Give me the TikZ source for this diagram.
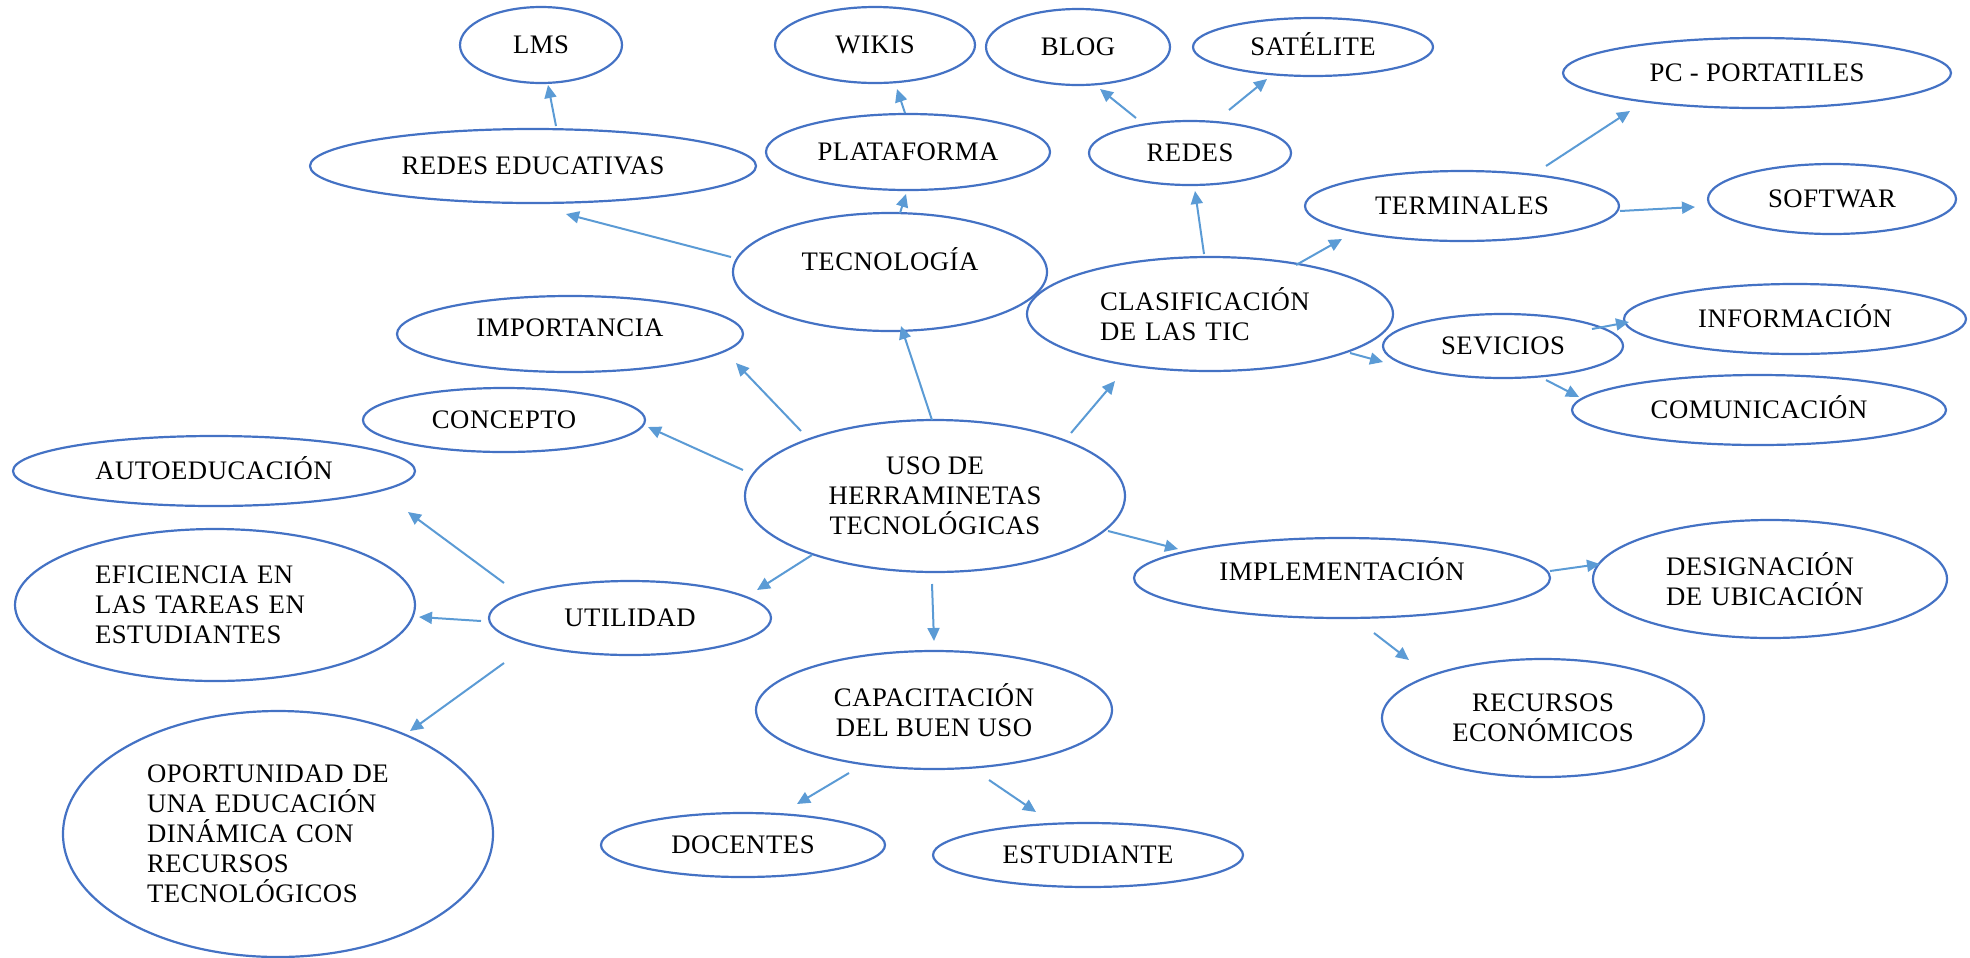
\documentclass[tikz,border=0pt]{standalone}
\usepackage{fontspec}
\newfontfamily\tnr[LetterSpace=2]{Liberation Serif}
\usetikzlibrary{shapes.geometric,arrows.meta,calc}

\definecolor{ovalblue}{HTML}{4472C4}
\definecolor{arrowblue}{HTML}{5B9BD5}

\tikzset{
  bub/.style={ellipse, draw=ovalblue, line width=0.22mm, inner sep=0pt,
    font={\tnr\fontsize{7.6}{8.55}\selectfont}},
  one/.style={text height=1.75mm, text depth=0mm},
  sz/.style 2 args={minimum width=#1*0.2mm, minimum height=#2*0.2mm},
  arr/.style={-{Triangle[length=1.3mm,width=1.2mm]}, draw=arrowblue, line width=0.2mm}
}

\begin{document}
\begin{tikzpicture}[x=0.1mm,y=-0.1mm]
\useasboundingbox (0,0) rectangle (1970,957);

\node[bub,one,sz={81}{38}] (lms) at (541,45) {LMS};
\node[bub,one,sz={100}{38}] (wikis) at (875,45) {WIKIS};
\node[bub,one,sz={92}{38}] (blog) at (1078,47) {BLOG};
\node[bub,one,sz={120}{29}] (satelite) at (1313,47) {SATÉLITE};
\node[bub,one,sz={194}{35}] (pc) at (1757,73) {PC - PORTATILES};
\node[bub,one,sz={223}{37}] (redesedu) at (533,166) {REDES EDUCATIVAS};
\node[bub,one,sz={142}{38}] (plataforma) at (908,152) {PLATAFORMA};
\node[bub,one,sz={101}{32}] (redes) at (1190,153) {REDES};
\node[bub,one,sz={157}{35}] (terminales) at (1462,206) {TERMINALES};
\node[bub,one,sz={124}{35}] (softwar) at (1832,199) {SOFTWAR};
\node[bub,sz={157}{59},text height=1.75mm,text depth=2mm] (tecno) at (890,272) {TECNOLOGÍA};
\node[bub,sz={183}{57},align=left,text width=22mm] (clasif) at (1210,314) {CLASIFICACIÓN\\DE LAS TIC};
\node[bub,sz={173}{38},text height=1.75mm,text depth=1.2mm] (importancia) at (570,334) {IMPORTANCIA};
\node[bub,one,sz={120}{32}] (servicios) at (1503,346) {SEVICIOS};
\node[bub,one,sz={171}{35}] (informacion) at (1795,319) {INFORMACIÓN};
\node[bub,one,sz={141}{32}] (concepto) at (504,420) {CONCEPTO};
\node[bub,one,sz={187}{35}] (comunicacion) at (1759,410) {COMUNICACIÓN};
\node[bub,one,sz={201}{35}] (autoedu) at (214,471) {AUTOEDUCACIÓN};
\node[bub,sz={190}{76},align=center] (uso) at (935,496) {USO DE\\HERRAMINETAS\\TECNOLÓGICAS};
\node[bub,sz={200}{76},align=left,text width=24mm] (eficiencia) at (215,605) {EFICIENCIA EN\\LAS TAREAS EN\\ESTUDIANTES};
\node[bub,one,sz={141}{37}] (utilidad) at (630,618) {UTILIDAD};
\node[bub,sz={208}{40},text height=1.75mm,text depth=1.2mm] (implementacion) at (1342,578) {IMPLEMENTACIÓN};
\node[bub,sz={177}{59},align=left,text width=20.8mm] (designacion) at (1770,579) {DESIGNACIÓN\\DE UBICACIÓN};
\node[bub,sz={178}{59},align=center] (capacitacion) at (934,710) {CAPACITACIÓN\\DEL BUEN USO};
\node[bub,sz={161}{59},align=center] (recursos) at (1543,718) {RECURSOS\\ECONÓMICOS};
\node[bub,sz={215}{123},align=left,text width=26.2mm] (oportunidad) at (278,834) {OPORTUNIDAD DE\\UNA EDUCACIÓN\\DINÁMICA CON\\RECURSOS\\TECNOLÓGICOS};
\node[bub,one,sz={142}{32}] (docentes) at (743,845) {DOCENTES};
\node[bub,one,sz={155}{32}] (estudiante) at (1088,855) {ESTUDIANTE};

\draw[arr] ($(redesedu)+(23,-40)$) -- ($(lms)+(7,40)$);
\draw[arr] ($(plataforma)+(-3,-39)$) -- ($(wikis)+(22,44)$);
\draw[arr] ($(tecno)+(10,-59)$) -- ($(plataforma)+(-2,42)$);
\draw[arr] ($(tecno)+(-159,-15)$) -- ($(redesedu)+(33,48)$);
\draw[arr] ($(uso)+(-3,-76)$) -- ($(tecno)+(11,54)$);
\draw[arr] ($(uso)+(-134,-65)$) -- ($(importancia)+(166,29)$);
\draw[arr] ($(uso)+(-192,-26)$) -- ($(concepto)+(144,7)$);
\draw[arr] ($(redes)+(-54,-35)$) -- ($(blog)+(22,42)$);
\draw[arr] ($(redes)+(39,-43)$) -- ($(satelite)+(-46,32)$);
\draw[arr] ($(clasif)+(-6,-60)$) -- ($(redes)+(5,38)$);
\draw[arr] ($(clasif)+(86,-49)$) -- ($(terminales)+(-120,33)$);
\draw[arr] ($(clasif)+(140,39)$) -- ($(servicios)+(-120,16)$);
\draw[arr] ($(uso)+(136,-63)$) -- ($(clasif)+(-95,67)$);
\draw[arr] ($(terminales)+(84,-40)$) -- ($(pc)+(-127,38)$);
\draw[arr] ($(terminales)+(158,5)$) -- ($(softwar)+(-137,8)$);
\draw[arr] ($(servicios)+(89,-17)$) -- ($(informacion)+(-166,3)$);
\draw[arr] ($(servicios)+(43,34)$) -- ($(comunicacion)+(-180,-13)$);
\draw[arr] ($(utilidad)+(-126,-35)$) -- ($(autoedu)+(194,41)$);
\draw[arr] ($(utilidad)+(-149,3)$) -- ($(eficiencia)+(204,12)$);
\draw[arr] ($(utilidad)+(-126,45)$) -- ($(oportunidad)+(132,-103)$);
\draw[arr] ($(uso)+(-123,59)$) -- ($(utilidad)+(127,-28)$);
\draw[arr] ($(uso)+(-3,88)$) -- ($(capacitacion)+(0,-69)$);
\draw[arr] ($(capacitacion)+(-85,63)$) -- ($(docentes)+(54,-41)$);
\draw[arr] ($(capacitacion)+(55,70)$) -- ($(estudiante)+(-52,-43)$);
\draw[arr] ($(uso)+(173,35)$) -- ($(implementacion)+(-164,-29)$);
\draw[arr] ($(implementacion)+(32,55)$) -- ($(recursos)+(-134,-58)$);
\draw[arr] ($(implementacion)+(208,-7)$) -- ($(designacion)+(-170,-15)$);

\end{tikzpicture}
\end{document}
